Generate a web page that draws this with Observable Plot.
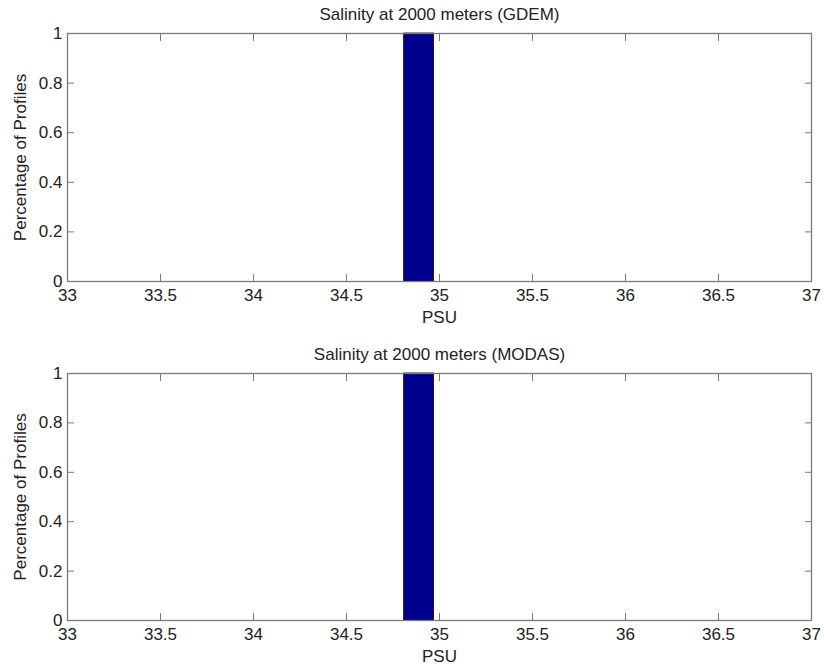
<!DOCTYPE html>
<html>
<head>
<meta charset="utf-8">
<script src="https://cdn.jsdelivr.net/npm/d3@7"></script>
<script src="https://cdn.jsdelivr.net/npm/@observablehq/plot@0.6"></script>
<style>
  html, body { margin: 0; padding: 0; background: #fff; }
  #chart { width: 824px; }
  #chart svg { display: block; }
</style>
</head>
<body>
<div id="chart"></div>
<script>
const xTicks = [33, 33.5, 34, 34.5, 35, 35.5, 36, 36.5, 37];
const yTicks = [0, 0.2, 0.4, 0.6, 0.8, 1];
const binLo = [34.81];
const binHi = [34.97];
const gdemPct = [1];
const modasPct = [1];
const titles = ["Salinity at 2000 meters (GDEM)", "Salinity at 2000 meters (MODAS)"];
const xLabel = "PSU";
const yLabel = "Percentage of Profiles";

const axisColor = "#7a7a7a";
const textColor = "#222";
const fmt = d3.format("~g");

function panel(values, title, height, marginTop, marginBottom) {
  const data = binLo.map((lo, i) => ({lo, hi: binHi[i], v: values[i]}));
  return Plot.plot({
    width: 824,
    height,
    marginTop,
    marginBottom,
    marginLeft: 67,
    marginRight: 13,
    style: {fontFamily: "'Liberation Sans', Arial, sans-serif", fontSize: "17px", color: textColor, background: "#fff"},
    x: {domain: [33, 37]},
    y: {domain: [0, 1]},
    marks: [
      Plot.rectY(data, {x1: "lo", x2: "hi", y: "v", fill: "#00008f", stroke: "#000", strokeWidth: 0.8}),
      Plot.frame({stroke: axisColor, strokeWidth: 1.3}),
      // labels
      Plot.axisX(xTicks, {anchor: "bottom", tickSize: 0, tickPadding: 7, tickFormat: fmt, label: null, fill: textColor}),
      Plot.axisY(yTicks, {anchor: "left", tickSize: 0, tickPadding: 5, tickFormat: fmt, label: null, fill: textColor}),
      // inward ticks
      Plot.axisX(xTicks, {anchor: "bottom", tickSize: -7, tickFormat: () => "", label: null, stroke: axisColor}),
      Plot.axisX(xTicks, {anchor: "top", tickSize: -7, tickFormat: () => "", label: null, stroke: axisColor}),
      Plot.axisY(yTicks, {anchor: "left", tickSize: -7, tickFormat: () => "", label: null, stroke: axisColor}),
      Plot.axisY(yTicks, {anchor: "right", tickSize: -7, tickFormat: () => "", label: null, stroke: axisColor}),
      // title and axis titles
      Plot.text([title], {frameAnchor: "top", dy: -19, lineAnchor: "middle", fill: textColor}),
      Plot.text([xLabel], {frameAnchor: "bottom", dy: 36, lineAnchor: "middle", fill: textColor}),
      Plot.text([yLabel], {frameAnchor: "left", dx: -47, rotate: -90, lineAnchor: "middle", textAnchor: "middle", fill: textColor})
    ]
  });
}

const root = document.getElementById("chart");
root.appendChild(panel(gdemPct, titles[0], 339, 33, 58));
root.appendChild(panel(modasPct, titles[1], 331, 34, 50));
</script>
</body>
</html>
